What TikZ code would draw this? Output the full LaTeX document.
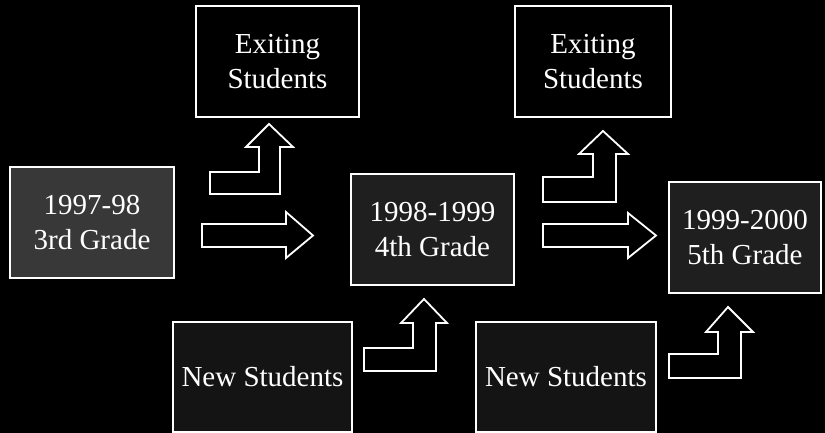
\documentclass[tikz,border=0pt]{standalone}
\usepackage{fontspec}
\setmainfont{Liberation Serif}
\begin{document}
\begin{tikzpicture}[x=1pt,y=-1pt,
  box/.style={draw=white, line width=1.6pt, fill=black, text=white, align=center,
    font=\fontsize{29}{35}\selectfont, inner sep=0pt},
  gradebox/.style={box, fill=black!78!white},
  blockarrow/.style={draw=white, line width=1.8pt, fill=black, line join=miter}]
\fill[black] (0,0) rectangle (825,433);
\useasboundingbox (0,0) rectangle (825,433);
% boxes
\node[gradebox, minimum width=164pt, minimum height=111pt] (g3) at (92,222.5) {1997-98\\3rd Grade};
\node[box, fill=black!88!white, minimum width=163pt, minimum height=111pt] (g4) at (432.5,229.5) {1998-1999\\4th Grade};
\node[box, fill=black!88!white, minimum width=152pt, minimum height=111pt] (g5) at (745,237.5) {1999-2000\\5th Grade};
\node[box, minimum width=163pt, minimum height=111pt] (ex1) at (277.5,61.5) {Exiting\\Students};
\node[box, minimum width=156pt, minimum height=111pt] (ex2) at (593,61.5) {Exiting\\Students};
\node[box, fill=black!92!white, minimum width=179pt, minimum height=110pt] (ns1) at (262.5,377) {New Students};
\node[box, fill=black!92!white, minimum width=180pt, minimum height=110pt] (ns2) at (566,377) {New Students};
% straight block arrows
\draw[blockarrow] (202,224) -- (286,224) -- (286,212) -- (313,235.5) -- (286,258) -- (286,247) -- (202,247) -- cycle;
\draw[blockarrow] (543,224) -- (628,224) -- (628,213) -- (656,235.5) -- (628,258) -- (628,247) -- (543,247) -- cycle;
% bent block arrows (up)
\draw[blockarrow] (210,172) -- (259,172) -- (259,147) -- (246,147) -- (269,124) -- (293,147) -- (280,147) -- (280,194) -- (210,194) -- cycle;
\draw[blockarrow] (543,177) -- (593,177) -- (593,154) -- (579,154) -- (603,131) -- (628,154) -- (616,154) -- (616,202) -- (543,202) -- cycle;
\draw[blockarrow] (364,348) -- (413,348) -- (413,323) -- (401,323) -- (424,299) -- (447,323) -- (436,323) -- (436,371) -- (364,371) -- cycle;
\draw[blockarrow] (669,354) -- (718,354) -- (718,332) -- (706,332) -- (728,307) -- (753,332) -- (741,332) -- (741,378) -- (669,378) -- cycle;
\end{tikzpicture}
\end{document}
